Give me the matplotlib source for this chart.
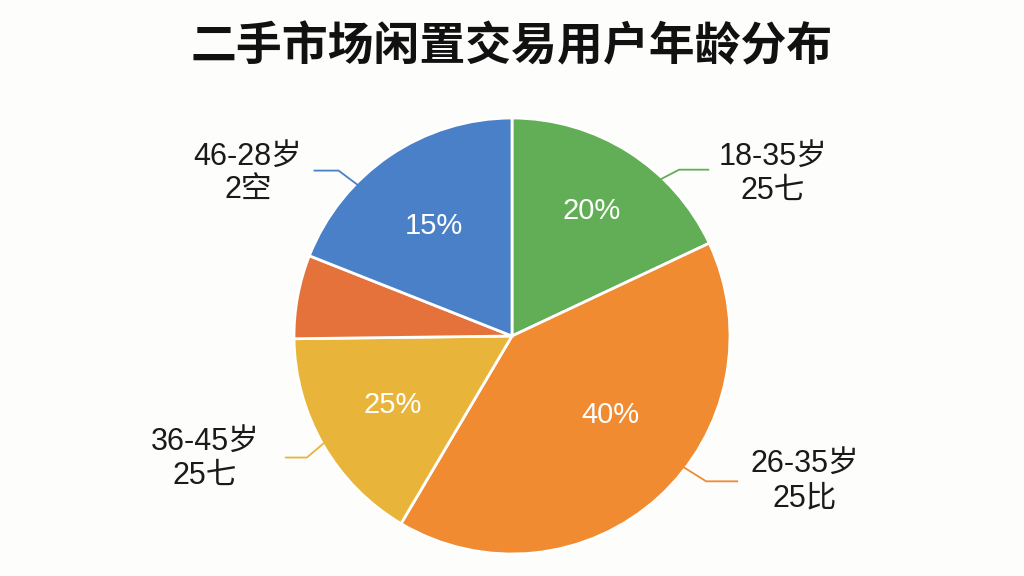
import numpy as np
import matplotlib.pyplot as plt

plt.rcParams['font.family'] = ['Liberation Sans', 'Noto Sans CJK SC', 'DejaVu Sans']

# 扇区数据（顺时针，从12点方向开始）
sizes = [18, 40.5, 16.3, 6.2, 19]
colors = ['#62AE56', '#F08B31', '#E9B43A', '#E5723A', '#4A80C7']
pct_texts = ['20%', '40%', '25%', '', '15%']
group_texts = ['18-35岁\n25七', '26-35岁\n25比', '36-45岁\n25七', '', '46-28岁\n2空']

title = '二手市场闲置交易用户年龄分布'

W, H = 1024, 576
fig = plt.figure(figsize=(W / 100, H / 100), dpi=100)
fig.patch.set_facecolor('#FDFDFB')
ax = fig.add_axes([0, 0, 1, 1])

cx, cy, R = 512, H - 336, 218

wedges, _ = ax.pie(sizes, colors=colors, startangle=90, counterclock=False,
                   center=(cx, cy), radius=R,
                   wedgeprops=dict(edgecolor='white', linewidth=2))
ax.set_xlim(0, W)
ax.set_ylim(0, H)
ax.set_aspect('equal')
ax.axis('off')

# 百分比文字
pct_r = [0.68, 0.58, 0.63, 0, 0.62]
pct_shift = [0, 9, 0, 0, 1]
for w, t, pr, sh in zip(wedges, pct_texts, pct_r, pct_shift):
    if not t:
        continue
    mid = np.deg2rad((w.theta1 + w.theta2) / 2 + sh)
    ax.text(cx + R * pr * np.cos(mid), cy + R * pr * np.sin(mid), t,
            ha='center', va='center', fontsize=21, color='white')

# 外部标签 + 引导线
lead_shift = [-10, 10, -1, 0, 11]
elbow = [(29, 15), (32, -20), (-26, -22), None, (-28, 21)]
hor = [30, 32, -22, 0, -25]
text_pos = [(773, H - 174), (805, H - 481), (205, H - 459), None, (248, H - 174)]
for w, t, sh, el, hl, pos in zip(wedges, group_texts, lead_shift, elbow, hor, text_pos):
    if not t:
        continue
    mid = np.deg2rad((w.theta1 + w.theta2) / 2 + sh)
    r0 = R * 0.94
    x0, y0 = cx + r0 * np.cos(mid), cy + r0 * np.sin(mid)
    x1, y1 = x0 + el[0], y0 + el[1]
    x2 = x1 + hl
    ax.plot([x0, x1, x2], [y0, y1, y1], color=w.get_facecolor(), lw=1.3,
            solid_capstyle='butt', zorder=5)
    ax.text(pos[0], pos[1], t, ha='center', va='center', fontsize=22,
            color='#1A1A1A', linespacing=1.2)

fig.text(0.5, 1 - 47 / H, title, ha='center', va='center', fontsize=33,
         fontweight='bold', color='#111111', family=['Noto Sans CJK SC'])

fig.savefig('out.png', dpi=100, facecolor=fig.get_facecolor())
